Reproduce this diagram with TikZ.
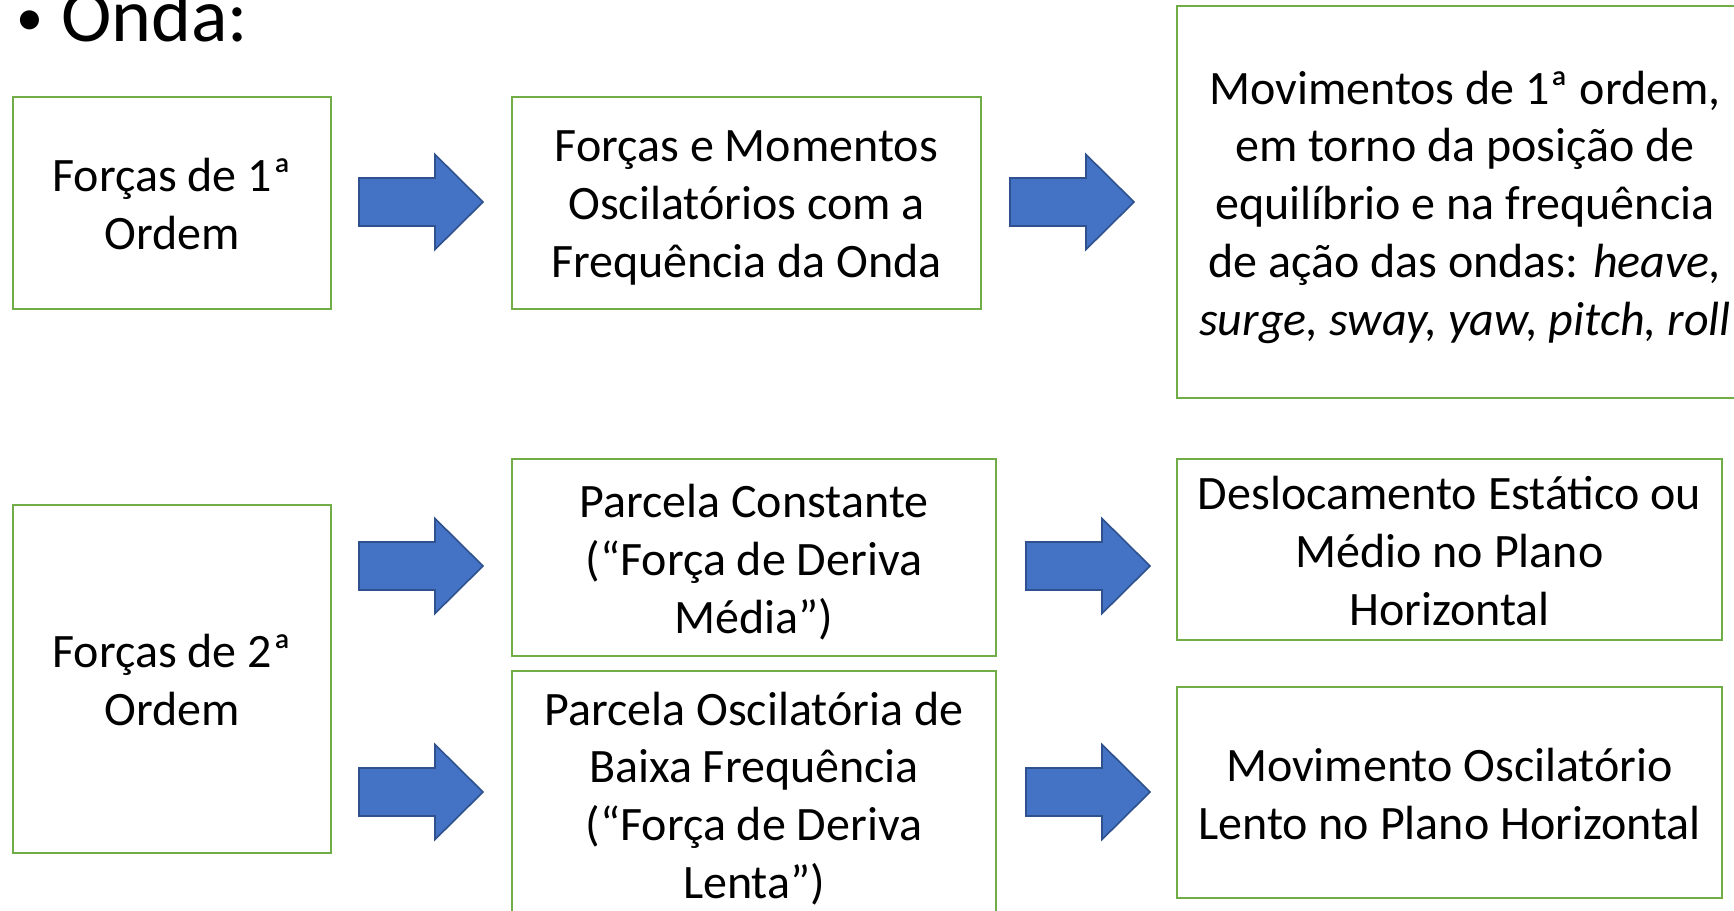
\documentclass[tikz,border=0pt]{standalone}
\usepackage{fontspec}
\setmainfont{Carlito}
\definecolor{boxgreen}{HTML}{70AD47}
\definecolor{arrowfill}{HTML}{4472C4}
\definecolor{arrowline}{HTML}{2F528F}
\newcommand\boxstrut{\rule[-6.5pt]{0pt}{30.5pt}}
\tikzset{
  box/.style={draw=boxgreen,line width=1.2pt,inner sep=0pt},
  txt/.style={align=center,inner sep=0pt,yshift=-3.8pt,
    font=\fontsize{24}{28.9}\selectfont,
    execute at begin node=\boxstrut, execute at end node=\boxstrut},
  barrowstyle/.style={fill=arrowfill,draw=arrowline,line width=0.8pt},
  barrow/.pic={\draw[barrowstyle] (-62,-24) -- (14,-24) -- (14,-47.5) -- (62,0)
     -- (14,47.5) -- (14,24) -- (-62,24) -- cycle;}
}
\begin{document}
\begin{tikzpicture}[x=0.5pt,y=-0.5pt]
\clip (0,0) rectangle (1734,910);
\fill[white] (0,0) rectangle (1734,910);
% title
\node[anchor=base west,inner sep=0pt,font=\fontsize{27}{30}\selectfont] (bul) at (16,35.5) {•};
\node[anchor=base west,inner sep=0pt,font=\fontsize{38}{40}\selectfont] (title) at (61,41) {Onda:};
% frames
\node[box,minimum width=159pt,minimum height=106pt] (f1) at (172,203) {};
\node[box,minimum width=234.5pt,minimum height=106pt] (fm) at (746.5,203) {};
\node[box,minimum width=288pt,minimum height=196pt] (mv) at (1465,202) {};
\node[box,minimum width=159pt,minimum height=174pt] (f2) at (172,679) {};
\node[box,minimum width=242pt,minimum height=98.5pt] (pc) at (754,557.5) {};
\node[box,minimum width=242pt,minimum height=123pt] (po) at (754,794) {};
\node[box,minimum width=272.5pt,minimum height=90.5pt] (de) at (1449.5,549.5) {};
\node[box,minimum width=272.5pt,minimum height=105.5pt] (mo) at (1449.5,792.5) {};
% texts
\node[txt] (f1t) at (f1.center) {Forças de 1ª\\Ordem};
\node[txt] (fmt) at (fm.center) {Forças e Momentos\\Oscilatórios com a\\Frequência da Onda};
\node[txt] (mvt) at (mv.center) {Movimentos de 1ª ordem,\\em torno da posição de\\equilíbrio e na frequência\\de ação das ondas: \textit{heave,}\\\textit{surge, sway, yaw, pitch, roll}};
\node[txt] (f2t) at (f2.center) {Forças de 2ª\\Ordem};
\node[txt] (pct) at (pc.center) {Parcela Constante\\(“Força de Deriva\\Média”)};
\node[txt] (pot) at (po.center) {Parcela Oscilatória de\\Baixa Frequência\\(“Força de Deriva\\Lenta”)};
\node[txt] (det) at (de.center) {Deslocamento Estático ou\\Médio no Plano\\Horizontal};
\node[txt] (mot) at (mo.center) {Movimento Oscilatório\\Lento no Plano Horizontal};
% block arrows
\pic at (421,202) {barrow};
\pic at (1072,202) {barrow};
\pic at (421,566) {barrow};
\pic at (421,792) {barrow};
\pic at (1088,566) {barrow};
\pic at (1088,792) {barrow};
\end{tikzpicture}
\end{document}
